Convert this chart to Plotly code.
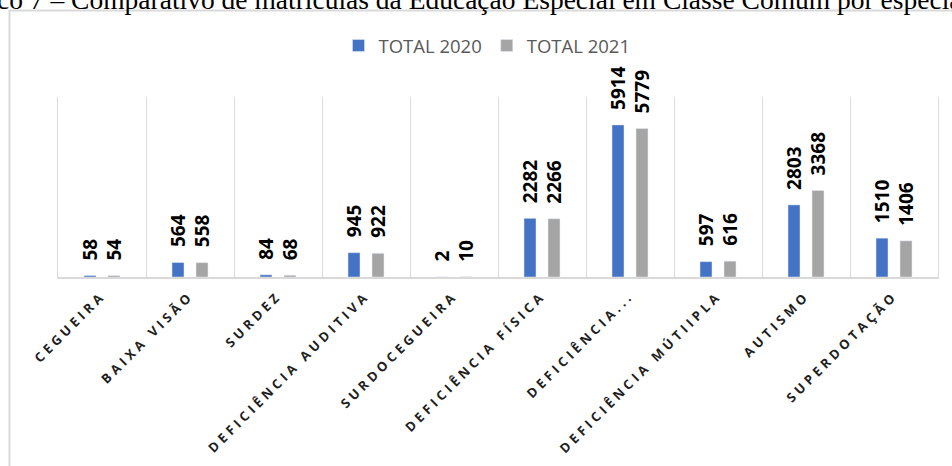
import plotly.graph_objects as go

# Matrículas da Educação Especial em Classe Comum, por especificidade
categorias = ["CEGUEIRA", "BAIXA VISÃO", "SURDEZ", "DEFICIÊNCIA AUDITIVA", "SURDOCEGUEIRA",
              "DEFICIÊNCIA FÍSICA", "DEFICIÊNCIA...", "DEFICIÊNCIA MÚTIIPLA", "AUTISMO",
              "SUPERDOTAÇÃO"]
total_2020 = [58, 564, 84, 945, 2, 2282, 5914, 597, 2803, 1510]
total_2021 = [54, 558, 68, 922, 10, 2266, 5779, 616, 3368, 1406]
series_names = ["TOTAL 2020", "TOTAL 2021"]
titulo = ("Gráfico 7 – Comparativo de matrículas da Educação Especial em Classe Comum "
          "por especialidade")

W, H = 952, 466
ML, MR, MT, MB = 58, 14, 97, 189
PW, PH = W - ML - MR, H - MT - MB


def px_x(p):
    return (p - ML) / PW


def px_y(p):
    return (H - MB - p) / PH


COR_2020 = "#4472C4"
COR_2021 = "#A5A5A5"

fig = go.Figure()
fig.add_trace(go.Bar(x=categorias, y=total_2020, name=series_names[0], marker_color=COR_2020))
fig.add_trace(go.Bar(x=categorias, y=total_2021, name=series_names[1], marker_color=COR_2021))

# rotated value labels above each bar
for serie, shift in ((total_2020, -12), (total_2021, 12)):
    for cat, v in zip(categorias, serie):
        fig.add_annotation(x=cat, y=v, xref="x", yref="y", text=str(v), showarrow=False,
                           textangle=-90, xanchor="center", yanchor="bottom",
                           xshift=shift, yshift=13,
                           font=dict(family="Open Sans", size=19, color="#000000", weight="bold"))

# document caption running off the top edge
fig.add_annotation(x=px_x(-63), y=px_y(17), xref="paper", yref="paper", text=titulo,
                   showarrow=False, xanchor="left", yanchor="bottom",
                   font=dict(family="Liberation Serif", size=27.5, color="#000000"))

# chart frame
fig.add_shape(type="rect", xref="paper", yref="paper",
              x0=px_x(9.5), x1=px_x(980), y0=px_y(500), y1=px_y(10.5),
              line=dict(color="#d9d9d9", width=2), layer="below")

fig.update_layout(
    width=W, height=H, autosize=False,
    margin=dict(l=ML, r=MR, t=MT, b=MB, pad=0),
    paper_bgcolor="white", plot_bgcolor="white",
    barmode="group", bargap=0.4545, bargroupgap=0.5,
    showlegend=True,
    legend=dict(orientation="h", x=px_x(487), xanchor="center", y=px_y(46), yanchor="middle",
                font=dict(family="Open Sans", size=18.5, color="#595959"),
                bgcolor="rgba(0,0,0,0)"),
    xaxis=dict(type="category", range=[-0.5, 9.5], tickson="boundaries", ticks="",
               showgrid=True, gridcolor="#d9d9d9", gridwidth=1,
               showline=True, linecolor="#d9d9d9", linewidth=2,
               tickangle=-45, ticklabelstandoff=4,
               tickfont=dict(family="Open Sans", size=13, color="#1f1f1f", weight="bold")),
    yaxis=dict(range=[0, 7000], showgrid=False, zeroline=False, showticklabels=False,
               showline=True, mirror=True, linecolor="#d9d9d9", linewidth=1),
)

spacing_js = """
(function(){
  var gd = document.getElementById('{plot_id}');
  function spread(){
    gd.querySelectorAll('.xtick text').forEach(function(t){ t.style.letterSpacing = '3.8px'; });
  }
  spread();
  setTimeout(spread, 0);
  if (gd.on) { gd.on('plotly_afterplot', spread); }
})();
"""

fig.write_html("out.html", post_script=spacing_js)
